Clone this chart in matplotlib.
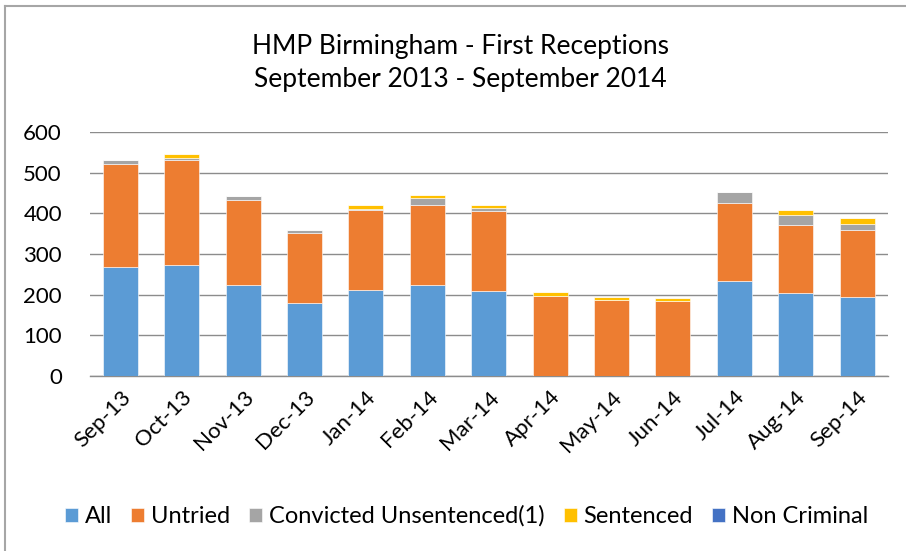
import numpy as np
import matplotlib.pyplot as plt
from matplotlib.lines import Line2D

plt.rcParams['font.family'] = ['Lato', 'DejaVu Sans']

# data
months = ['Sep-13', 'Oct-13', 'Nov-13', 'Dec-13', 'Jan-14', 'Feb-14', 'Mar-14',
          'Apr-14', 'May-14', 'Jun-14', 'Jul-14', 'Aug-14', 'Sep-14']
all_ = [268, 274, 223, 180, 212, 223, 210, 0, 0, 0, 233, 203, 194]
untried = [254, 258, 211, 171, 197, 198, 196, 196, 186, 184, 192, 169, 164]
conv_unsent = [10, 5, 8, 7, 2, 17, 7, 0, 0, 1, 27, 23, 17]
sentenced = [0, 10, 0, 0, 10, 7, 7, 10, 8, 6, 0, 13, 13]
non_criminal = [0] * 13

series = [('All', all_, '#5B9BD5'),
          ('Untried', untried, '#ED7D31'),
          ('Convicted Unsentenced(1)', conv_unsent, '#A5A5A5'),
          ('Sentenced', sentenced, '#FFC000'),
          ('Non Criminal', non_criminal, '#4472C4')]

fig = plt.figure(figsize=(9.06, 5.51), dpi=100)
ax = fig.add_axes([0.099, 0.318, 0.881, 0.442])

x = np.arange(len(months))
bottom = np.zeros(len(months))
for name, vals, col in series:
    vals = np.array(vals, dtype=float)
    ax.bar(x, vals, 0.57, bottom=bottom, color=col, label=name,
           edgecolor='white', linewidth=0.4, zorder=3)
    bottom += vals

ax.set_ylim(0, 600)
ax.set_xlim(-0.5, len(months) - 0.5)
ax.set_yticks(range(0, 601, 100))
ax.yaxis.grid(True, color='#8C8C8C', linewidth=1, zorder=0)
for s in ['top', 'right', 'left']:
    ax.spines[s].set_visible(False)
ax.spines['bottom'].set_color('#8C8C8C')
ax.spines['bottom'].set_linewidth(1)
ax.tick_params(axis='both', length=0, labelsize=16)
ax.tick_params(axis='y', pad=20)
ax.tick_params(axis='x', pad=8)
ax.set_xticks(x)
ax.set_xticklabels(months, rotation=45, ha='right', rotation_mode='anchor')

fig.text(0.508, 0.915, 'HMP Birmingham - First Receptions', ha='center', va='center', fontsize=19)
fig.text(0.508, 0.855, 'September 2013 - September 2014', ha='center', va='center', fontsize=19)

fig.legend(loc='center', bbox_to_anchor=(0.515, 0.063), ncol=5, frameon=False,
           fontsize=17, handlelength=0.55, handleheight=0.55, handletextpad=0.3,
           columnspacing=0.8)

# chart border (only the left and top edges show in the crop)
fig.add_artist(Line2D([0.006, 0.006], [0, 0.989], transform=fig.transFigure,
                      color='#A6A6A6', linewidth=1.5))
fig.add_artist(Line2D([0.006, 1], [0.989, 0.989], transform=fig.transFigure,
                      color='#A6A6A6', linewidth=1.5))

fig.savefig('out.png', dpi=100)
